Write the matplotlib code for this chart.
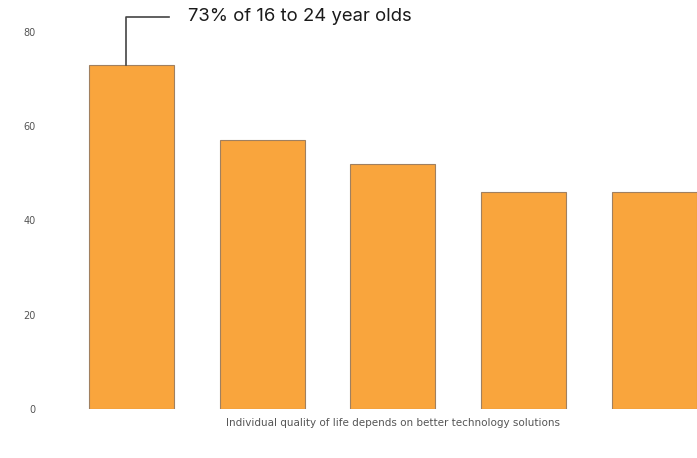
import matplotlib.pyplot as plt

categories = ["16-24", "25-34", "35-44", "45-54", "55+"]
values = [73, 57, 52, 46, 46]
yticks = [0, 20, 40, 60, 80]
xlabel = "Individual quality of life depends on better technology solutions"
annotation = "73% of 16 to 24 year olds"

fig = plt.figure(figsize=(6.97, 4.58), dpi=100)
ax = fig.add_axes([66/697, 49/458, (697-66)/697, 0.875])
x = list(range(len(categories)))
ax.bar(x, values, width=0.65, color="#F9A53D", edgecolor="#A08060", linewidth=0.8)
ax.set_xlim(-0.5, 4.5 - 23/131)
ax.set_ylim(0, 85)
ax.set_yticks(yticks)
ax.set_yticklabels([str(t) for t in yticks], fontsize=7, color="#555555")
ax.set_xticks([])
ax.tick_params(axis="y", length=0, pad=22)
for s in ax.spines.values():
    s.set_visible(False)

# annotation leader
ax.plot([-0.04, -0.04, 0.29], [values[0], 83.2, 83.2], color="#444444", lw=1.2, clip_on=False)
ax.text(0.43, 83.2, annotation, fontsize=13.3, color="#1a1a1a", va="center", ha="left",
        family="Inter", clip_on=False)
ax.text(2, -3, xlabel, fontsize=7.5, color="#555555", ha="center", va="center", clip_on=False)

fig.savefig("out.png", dpi=100)
